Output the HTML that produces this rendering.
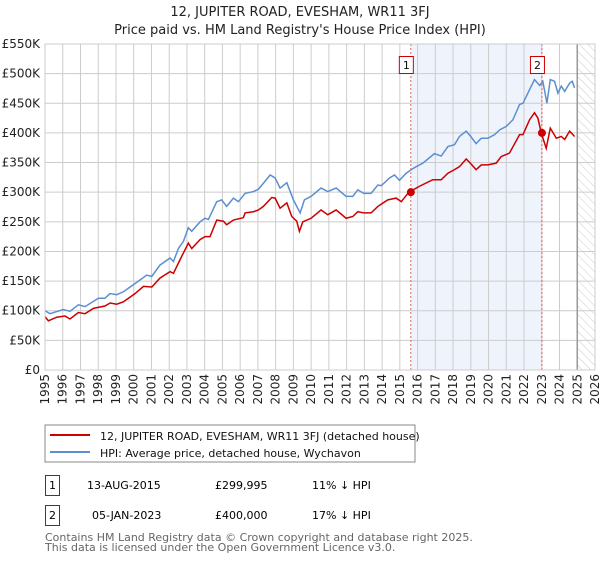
<!DOCTYPE html>
<html><head><meta charset="utf-8"><style>
body{margin:0;background:#fff;}
svg text{font-family:"DejaVu Sans","Liberation Sans",sans-serif;}
</style></head><body>
<svg id="chart" width="600" height="560" viewBox="0 0 600 560" xmlns="http://www.w3.org/2000/svg">
<defs>
<pattern id="hatch" patternUnits="userSpaceOnUse" width="6" height="6" patternTransform="rotate(-45)">
<line x1="0" y1="0" x2="0" y2="6" stroke="#ccc" stroke-width="1"/>
</pattern>
</defs>
<text x="300" y="16" font-size="13" text-anchor="middle" fill="#222">12, JUPITER ROAD, EVESHAM, WR11 3FJ</text>
<text x="300" y="34" font-size="13" text-anchor="middle" fill="#222">Price paid vs. HM Land Registry's House Price Index (HPI)</text>
<g id="plot"></g>
<g>
<rect x="45" y="425" width="370" height="37" fill="#fff" stroke="#888"/>
<line x1="50" y1="435" x2="90" y2="435" stroke="#cc0000" stroke-width="2"/>
<text x="100" y="440" font-size="11" fill="#111">12, JUPITER ROAD, EVESHAM, WR11 3FJ (detached house)</text>
<line x1="50" y1="452" x2="90" y2="452" stroke="#5b8fd0" stroke-width="2"/>
<text x="100" y="457" font-size="11" fill="#111">HPI: Average price, detached house, Wychavon</text>
</g>
<g>
<rect x="45.5" y="475.5" width="14" height="20" fill="#fff" stroke="#cc0000"/>
<text x="52.5" y="489" font-size="11" text-anchor="middle">1</text>
<text x="87" y="489" font-size="11">13-AUG-2015</text>
<text x="215" y="489" font-size="11">£299,995</text>
<text x="312" y="489" font-size="11">11% ↓ HPI</text>
</g>
<g>
<rect x="45.5" y="505.5" width="14" height="20" fill="#fff" stroke="#cc0000"/>
<text x="52.5" y="519" font-size="11" text-anchor="middle">2</text>
<text x="92" y="519" font-size="11">05-JAN-2023</text>
<text x="215" y="519" font-size="11">£400,000</text>
<text x="312" y="519" font-size="11">17% ↓ HPI</text>
</g>
<text x="45" y="541" font-size="11" fill="#666">Contains HM Land Registry data © Crown copyright and database right 2025.</text>
<text x="45" y="551" font-size="11" fill="#666">This data is licensed under the Open Government Licence v3.0.</text>
</svg>
<script>
const hpiYears=[1995.0,1995.28,1996.03,1996.41,1996.88,1997.26,1998.01,1998.38,1998.67,1999.04,1999.42,2000.08,2000.73,2001.02,2001.48,2002.05,2002.24,2002.52,2002.80,2003.08,2003.27,2003.74,2004.02,2004.21,2004.68,2004.96,2005.24,2005.62,2005.90,2006.28,2006.75,2007.03,2007.31,2007.69,2007.97,2008.25,2008.63,2009.00,2009.38,2009.62,2010.0,2010.56,2010.94,2011.41,2011.97,2012.35,2012.63,2012.97,2013.38,2013.76,2013.95,2014.42,2014.70,2014.98,2015.36,2015.64,2015.92,2016.30,2016.95,2017.33,2017.71,2018.08,2018.36,2018.74,2018.97,2019.30,2019.59,2019.96,2020.34,2020.62,2021.00,2021.37,2021.75,2021.94,2022.31,2022.59,2022.88,2023.06,2023.29,2023.48,2023.72,2023.91,2024.10,2024.29,2024.57,2024.72,2024.85];
const hpiValues=[100,95,102,99,110,107,121,121,129,127,132,146,160,158,177,189,183,205,217,240,234,250,256,254,284,287,276,290,284,298,301,305,315,329,324,307,316,287,265,287,293,307,301,307,293,293,304,298,298,312,311,324,329,320,332,338,343,349,365,361,377,380,394,403,395,382,391,391,397,405,411,422,448,450,473,490,480,487,450,490,487,467,479,470,484,487,476];
const priceYears=[1995.0,1995.19,1995.66,1996.13,1996.41,1996.88,1997.26,1997.73,1998.38,1998.67,1999.04,1999.42,2000.08,2000.55,2001.02,2001.48,2002.05,2002.24,2002.61,2003.08,2003.27,2003.74,2004.02,2004.30,2004.68,2005.06,2005.24,2005.62,2006.18,2006.28,2006.75,2007.03,2007.31,2007.78,2007.97,2008.25,2008.63,2008.91,2009.19,2009.34,2009.53,2010.0,2010.56,2010.94,2011.41,2011.97,2012.35,2012.63,2012.97,2013.38,2013.76,2014.32,2014.79,2015.08,2015.51,2016.11,2016.86,2017.33,2017.71,2018.08,2018.36,2018.74,2018.97,2019.30,2019.59,2019.96,2020.43,2020.71,2021.18,2021.75,2021.94,2022.31,2022.59,2022.78,2022.97,2023.25,2023.48,2023.82,2024.10,2024.29,2024.57,2024.85];
const priceValues=[90,83,89,91,86,97,95,104,108,113,111,115,129,141,140,155,166,163,186,214,205,220,225,225,253,251,245,253,257,265,267,270,276,291,290,273,282,259,251,234,250,256,270,262,270,256,259,267,265,265,276,287,290,284,300,310,321,321,332,338,343,356,349,338,346,346,349,360,366,397,397,422,434,425,400,374,408,391,394,389,403,394];
const saleYears=[2015.62,2023.01];
const saleValues=[299.995,400];
const saleLabels=["1","2"];
const yTicks=[0,50,100,150,200,250,300,350,400,450,500,550];
const yTickLabels=["£0","£50K","£100K","£150K","£200K","£250K","£300K","£350K","£400K","£450K","£500K","£550K"];
const xTicks=[1995,1996,1997,1998,1999,2000,2001,2002,2003,2004,2005,2006,2007,2008,2009,2010,2011,2012,2013,2014,2015,2016,2017,2018,2019,2020,2021,2022,2023,2024,2025,2026];
const X0=45,X1=595,Y0=370,Y1=44,YR0=1995,YR1=2026,VMAX=550;
const NS="http://www.w3.org/2000/svg";
const xs=y=>X0+(y-YR0)/(YR1-YR0)*(X1-X0);
const ys=v=>Y0-v/VMAX*(Y0-Y1);
const g=document.getElementById('plot');
function mk(t,a){const e=document.createElementNS(NS,t);for(const k in a)e.setAttribute(k,a[k]);g.appendChild(e);return e;}
// shaded region between sales
let sh=mk('rect',{x:xs(saleYears[0]),y:Y1,width:xs(saleYears[1])-xs(saleYears[0]),height:Y0-Y1,fill:'#eef3fc'});


let ht=mk('rect',{x:xs(2025.0),y:Y1,width:X1-xs(2025.0),height:Y0-Y1,fill:'url(#hatch)'});


yTicks.forEach((v,i)=>{
 const l=mk('line',{x1:X0,x2:X1,y1:ys(v),y2:ys(v),stroke:'#ccc','stroke-width':1});
 
 
 const t=mk('text',{x:X0-5,y:ys(v)+4,'font-size':12,'text-anchor':'end',fill:'#222'});
 
 
 t.textContent=yTickLabels[i];
});
xTicks.forEach(yr=>{
 const l=mk('line',{x1:xs(yr),x2:xs(yr),y1:Y1,y2:Y0,stroke:'#ccc','stroke-width':1});
 
 
 const t=mk('text',{x:0,y:0,'font-size':12,'text-anchor':'end',fill:'#222',transform:`translate(${xs(yr)+4},374) rotate(-90)`});
 
 
 t.textContent=yr;
});
let fl=mk('line',{x1:xs(2025.0),x2:xs(2025.0),y1:Y1,y2:Y0,stroke:'#999','stroke-width':1.5});


saleYears.forEach((yr,i)=>{
 const l=mk('line',{x1:xs(yr),x2:xs(yr),y1:Y1,y2:Y0,stroke:'#e06060','stroke-width':1,'stroke-dasharray':'2,2'});
 
 
});
let hp=mk('polyline',{points:hpiYears.map((y,i)=>xs(y)+','+ys(hpiValues[i])).join(' '),fill:'none',stroke:'#5b8fd0','stroke-width':1.5});


let pp=mk('polyline',{points:priceYears.map((y,i)=>xs(y)+','+ys(priceValues[i])).join(' '),fill:'none',stroke:'#cc0000','stroke-width':1.5});


saleYears.forEach((yr,i)=>{
 const c=mk('circle',{cx:xs(yr),cy:ys(saleValues[i]),r:4,fill:'#cc0000'});
 
 
 const b=mk('rect',{x:xs(yr)-11.5,y:56.5,width:14,height:17,fill:'#fff',stroke:'#cc0000'});
 
 
 const t=mk('text',{x:xs(yr)-4.5,y:69,'font-size':11,'text-anchor':'middle',fill:'#111'});
 
 
 t.textContent=saleLabels[i];
});
let fr=mk('rect',{x:X0,y:Y1,width:X1-X0,height:Y0-Y1,fill:'none',stroke:'#ccc'});


</script>
</body></html>
